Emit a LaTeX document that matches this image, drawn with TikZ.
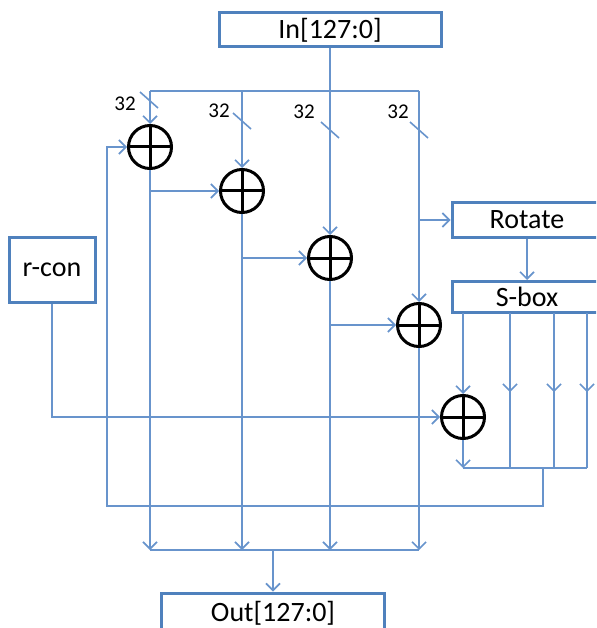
\documentclass[tikz,border=0pt]{standalone}
\usepackage{fontspec}
\setmainfont{Carlito}
\usepackage{xcolor}
\usepackage{tikz}
\usetikzlibrary{calc,arrows.meta,positioning}

\definecolor{boxblue}{RGB}{79,129,189}
\definecolor{wireblue}{RGB}{104,148,204}

\begin{document}
\begin{tikzpicture}[
    x=1pt, y=-1pt,
    >={Straight Barb[length=7pt,width=14pt]},
    font=\fontsize{28}{32}\selectfont,
    box/.style={draw=boxblue, line width=3pt, inner sep=0pt},
    wire/.style={draw=wireblue, line width=1.6pt},
    xorop/.style={circle, draw=black, line width=3pt, minimum size=43pt,
        inner sep=0pt,
        path picture={\draw[line width=3pt]
            (path picture bounding box.north) -- (path picture bounding box.south)
            (path picture bounding box.west) -- (path picture bounding box.east);}},
    wlabel/.style={font=\fontsize{21}{24}\selectfont, inner sep=0pt}
]
\useasboundingbox (0,0) rectangle (596,628);
\clip (0,0) rectangle (596,628);

%------------------------------------------------
% Blocos
%------------------------------------------------
\node[box, minimum width=222pt, minimum height=34pt] (in) at (330,30) {In[127:0]};
\node[box, minimum width=223pt, minimum height=40pt] (out) at (273,613) {Out[127:0]};
\node[box, minimum width=150pt, minimum height=34pt] (rot) at (527,220) {Rotate};
\node[box, minimum width=150pt, minimum height=31pt] (sbox) at (527,297) {S-box};
\node[box, minimum width=86pt, minimum height=65pt] (rcon) at (52,270) {r-con};

%------------------------------------------------
% Somadores
%------------------------------------------------
\node[xorop] (x1) at (150,147) {};
\node[xorop] (x2) at (242,191) {};
\node[xorop] (x3) at (330,258) {};
\node[xorop] (x4) at (419,325) {};
\node[xorop] (x5) at (463,417) {};

%------------------------------------------------
% Barramento de entrada (4 x 32)
%------------------------------------------------
\foreach \n/\x in {1/150,2/242,3/330,4/419}
{
    \coordinate (t\n) at (\x,91);
    \coordinate (b\n) at (\x,550);
}
\draw[wire] (t1) -- (t4);
\draw[wire,->] (in.south) -- (x3.north);
\foreach \n in {1,2,4}
    \draw[wire,->] (t\n) -- (x\n.north);

% marcas de largura
\foreach \n/\x/\sy/\lx/\ly in {
1/149/100/125/104,
2/242/121/219/111,
3/330/130/304/112,
4/419/130/398/112}
{
    \draw[wire] ($(\x,\sy)+(-9,-8)$) -- ++(18,16);
    \node[wlabel] (w\n) at (\lx,\ly) {32};
}

%------------------------------------------------
% Cadeia de somadores
%------------------------------------------------
\draw[wire,->] (x1 |- x2) -- (x2.west);
\draw[wire,->] (x2 |- x3) -- (x3.west);
\draw[wire,->] (x3 |- x4) -- (x4.west);
\draw[wire,->] (t4 |- rot) -- (rot.west);
\draw[wire,->] (rot.south) -- (sbox.north);

% saidas
\foreach \n in {1,...,4}
    \draw[wire,->] (x\n.south) -- (b\n);
\draw[wire] (b1) -- (b4);
\draw[wire,->] (out |- b1) -- (out.north);

%------------------------------------------------
% S-box e r-con
%------------------------------------------------
\foreach \k/\x in {1/463,2/510,3/554,4/587}
{
    \coordinate (s\k) at (\x,313);
    \coordinate (k\k) at (\x,468);
}
\draw[wire,->] (s1) -- (x5.north);
\draw[wire,->] (x5.south) -- (k1);
\foreach \k in {2,3,4}
{
    \draw[wire,->] (s\k) -- ($(s\k)!0.51!(k\k)$);
    \draw[wire] (s\k) -- (k\k);
}
\draw[wire] (k1) -- (k4);
\draw[wire,->] (rcon.south) |- (x5.west);

% realimentacao
\coordinate (col) at (543,468);
\coordinate (fb) at (107,506);
\draw[wire,->] (col) |- (fb) |- (x1.west);

\end{tikzpicture}
\end{document}
